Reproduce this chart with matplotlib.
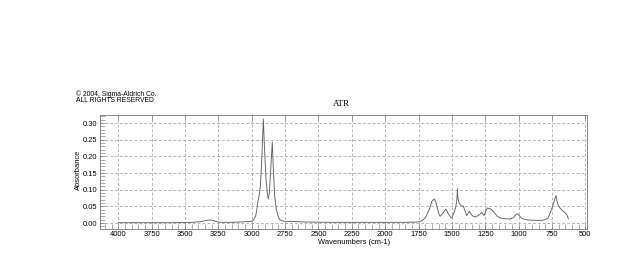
import matplotlib
matplotlib.use("Agg")
import matplotlib.pyplot as plt
from matplotlib.ticker import MultipleLocator

# Spectrum: wavenumber (cm-1) and absorbance
wavenumbers = [4000, 3800, 3600, 3450, 3380, 3340, 3310, 3290, 3265, 3230, 3150, 3080,
               3040, 3000, 2985, 2970, 2962, 2956, 2948, 2935, 2925, 2913, 2905, 2893,
               2882, 2876, 2868, 2858, 2846, 2838, 2828, 2815, 2800, 2788, 2760, 2700,
               2660, 2600, 2400, 2200, 2000, 1850, 1760, 1730, 1700, 1670, 1650, 1632,
               1618, 1600, 1589, 1570, 1546, 1530, 1510, 1501, 1485, 1470, 1462, 1459,
               1455, 1447, 1441, 1430, 1414, 1400, 1389, 1380, 1369, 1355, 1340, 1326,
               1305, 1290, 1276, 1265, 1259, 1245, 1234, 1215, 1201, 1180, 1160, 1139,
               1100, 1064, 1040, 1020, 1010, 995, 980, 965, 930, 880, 830, 800, 780,
               764, 750, 738, 727, 720, 712, 702, 690, 678, 665, 650, 639, 627]
absorbance = [0.001, 0.001, 0.001, 0.002, 0.004, 0.008, 0.009, 0.008, 0.004, 0.002, 0.002, 0.003,
              0.004, 0.005, 0.010, 0.022, 0.040, 0.060, 0.075, 0.110, 0.190, 0.312, 0.230, 0.130,
              0.085, 0.072, 0.090, 0.160, 0.243, 0.160, 0.080, 0.040, 0.017, 0.009, 0.005, 0.005,
              0.004, 0.003, 0.002, 0.002, 0.002, 0.002, 0.003, 0.006, 0.015, 0.040, 0.065, 0.072,
              0.060, 0.030, 0.020, 0.028, 0.042, 0.030, 0.017, 0.015, 0.030, 0.050, 0.075, 0.103,
              0.075, 0.060, 0.057, 0.052, 0.050, 0.035, 0.022, 0.028, 0.035, 0.026, 0.020, 0.018,
              0.022, 0.026, 0.032, 0.026, 0.022, 0.038, 0.045, 0.043, 0.040, 0.030, 0.020, 0.015,
              0.013, 0.012, 0.016, 0.025, 0.028, 0.022, 0.015, 0.012, 0.009, 0.008, 0.008, 0.010, 0.015,
              0.030, 0.045, 0.060, 0.075, 0.082, 0.065, 0.052, 0.045, 0.040, 0.035, 0.030, 0.025, 0.012]

x_ticks = [4000, 3750, 3500, 3250, 3000, 2750, 2500, 2250, 2000, 1750, 1500, 1250, 1000, 750, 500]
y_ticks = [0.00, 0.05, 0.10, 0.15, 0.20, 0.25, 0.30]

plt.rcParams['font.family'] = ['Liberation Sans', 'DejaVu Sans']

fig = plt.figure(figsize=(6.4, 2.78), dpi=100)
ax = fig.add_axes([100/640, 1-228.5/278, (586.7-100)/640, (228.5-115)/278])

ax.plot(wavenumbers, absorbance, color='#606060', lw=0.65)

ax.set_xlim(4137, 490)
ax.set_ylim(-0.0165, 0.324)
ax.set_xticks(x_ticks)
ax.set_xticklabels([str(v) for v in x_ticks], fontsize=5.4)
ax.set_yticks(y_ticks)
ax.set_yticklabels([f"{v:.2f}" for v in y_ticks], fontsize=5.4)
ax.xaxis.set_minor_locator(MultipleLocator(50))
ax.yaxis.set_minor_locator(MultipleLocator(0.01))
ax.tick_params(axis='both', which='major', direction='in', length=3.5, width=0.5,
               color='#777777', pad=2, top=True, right=False)
ax.tick_params(axis='both', which='minor', direction='in', length=3.5, width=0.5,
               color='#888888', top=False, right=False)
ax.grid(True, which='major', linestyle=(0, (4, 3)), color='#999999', lw=0.5)
for s in ax.spines.values():
    s.set_linewidth(0.6)
    s.set_color('#777777')

fig.text(354/640, 1-242/278, 'Wavenumbers (cm-1)', fontsize=5.4, ha='center', va='center')
fig.text(78/640, 1-170/278, 'Absorbance', fontsize=5.4, ha='center', va='center', rotation=90)
fig.text(341/640, 1-104/278, 'ATR', fontsize=6.5, ha='center', va='center',
         family=['Liberation Serif', 'DejaVu Serif'])
fig.text(76/640, 1-94/278, '© 2004, Sigma-Aldrich Co.', fontsize=4.9, ha='left', va='center')
fig.text(76/640, 1-100.5/278, 'ALL RIGHTS RESERVED', fontsize=4.9, ha='left', va='center')

fig.savefig('out.png', dpi=100)
